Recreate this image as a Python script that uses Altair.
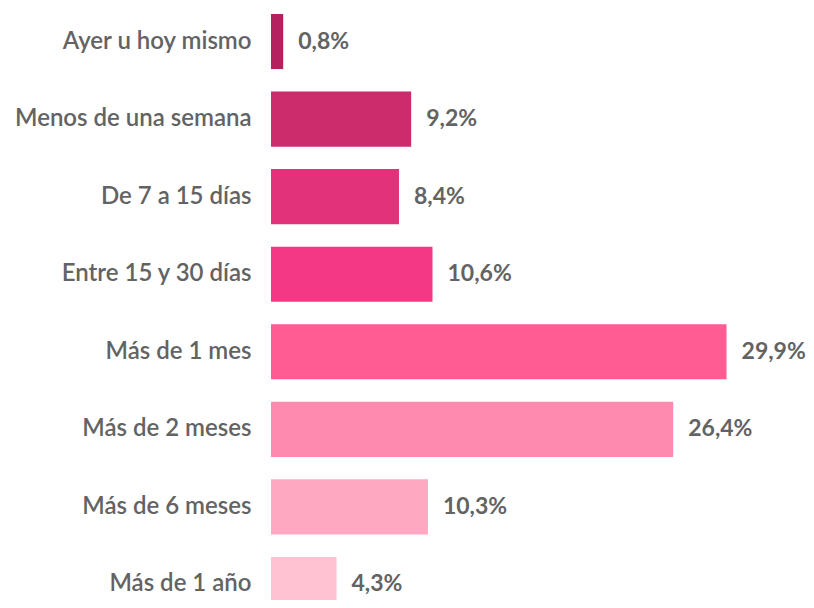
import altair as alt
import pandas as pd

categories = ["Ayer u hoy mismo", "Menos de una semana", "De 7 a 15 días", "Entre 15 y 30 días",
              "Más de 1 mes", "Más de 2 meses", "Más de 6 meses", "Más de 1 año"]
values = [0.8, 9.2, 8.4, 10.6, 29.9, 26.4, 10.3, 4.3]
labels = ["0,8%", "9,2%", "8,4%", "10,6%", "29,9%", "26,4%", "10,3%", "4,3%"]
colors = ["#B5205E", "#CC2B6C", "#E2327A", "#F43886", "#FF5C94", "#FF8AB0", "#FFA8C1", "#FFC2D3"]

df = pd.DataFrame({"cat": categories, "val": values, "lab": labels, "col": colors})

FONT = "Lato"
TXT = "#636363"

y = alt.Y("cat:N", sort=categories, title=None,
          scale=alt.Scale(paddingInner=0.29, paddingOuter=0, range=[6, 604]),
          axis=alt.Axis(domain=False, ticks=False, labelFont=FONT, labelFontSize=24,
                        labelColor=TXT, labelPadding=20, labelFontWeight=600, labelLimit=300))
x = alt.X("val:Q", scale=alt.Scale(domain=[0, 34]), axis=None)

bars = alt.Chart(df).mark_bar().encode(x=x, y=y, color=alt.Color("col:N", scale=None))
text = alt.Chart(df).mark_text(align="left", baseline="middle", dx=15, font=FONT,
                               fontSize=23, fontWeight="bold", color=TXT).encode(
    x=x, y=y, text="lab:N")

chart = (bars + text).properties(
    width=518, height=592,
    autosize=alt.AutoSizeParams(type="none"),
    padding={"left": 263, "top": 0, "right": 17, "bottom": 0},
).configure_view(stroke=None)

chart.save("out.html", embed_options={"renderer": "svg", "actions": False})
